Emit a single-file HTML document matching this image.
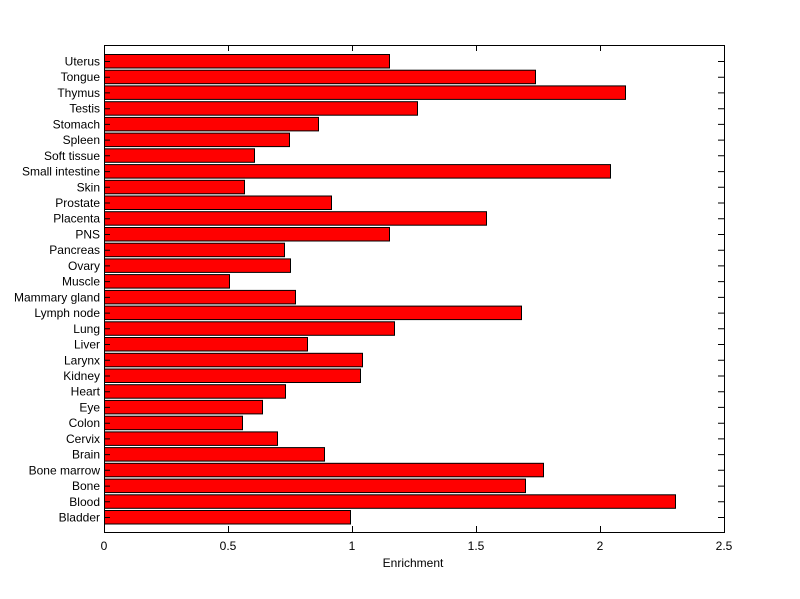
<!DOCTYPE html>
<html><head><meta charset="utf-8"><style>
html,body{margin:0;padding:0;background:#fff;}
svg{display:block;}
text{font-family:"Liberation Sans",sans-serif;font-size:12px;fill:#000;}
</style></head><body>
<svg width="800" height="599" xmlns="http://www.w3.org/2000/svg">
<rect width="800" height="599" fill="#fff"/>
<g fill="#ff0000" stroke="#000" stroke-width="1">
<rect x="104.5" y="54.5" width="285" height="13.5"/>
<rect x="104.5" y="70.2" width="431" height="13.5"/>
<rect x="104.5" y="85.9" width="521" height="13.5"/>
<rect x="104.5" y="101.7" width="313" height="13.5"/>
<rect x="104.5" y="117.4" width="214" height="13.5"/>
<rect x="104.5" y="133.1" width="185" height="13.5"/>
<rect x="104.5" y="148.8" width="150" height="13.5"/>
<rect x="104.5" y="164.6" width="506" height="13.5"/>
<rect x="104.5" y="180.3" width="140" height="13.5"/>
<rect x="104.5" y="196.0" width="227" height="13.5"/>
<rect x="104.5" y="211.7" width="382" height="13.5"/>
<rect x="104.5" y="227.5" width="285" height="13.5"/>
<rect x="104.5" y="243.2" width="180" height="13.5"/>
<rect x="104.5" y="258.9" width="186" height="13.5"/>
<rect x="104.5" y="274.6" width="125" height="13.5"/>
<rect x="104.5" y="290.4" width="191" height="13.5"/>
<rect x="104.5" y="306.1" width="417" height="13.5"/>
<rect x="104.5" y="321.8" width="290" height="13.5"/>
<rect x="104.5" y="337.5" width="203" height="13.5"/>
<rect x="104.5" y="353.3" width="258" height="13.5"/>
<rect x="104.5" y="369.0" width="256" height="13.5"/>
<rect x="104.5" y="384.7" width="181" height="13.5"/>
<rect x="104.5" y="400.4" width="158" height="13.5"/>
<rect x="104.5" y="416.2" width="138" height="13.5"/>
<rect x="104.5" y="431.9" width="173" height="13.5"/>
<rect x="104.5" y="447.6" width="220" height="13.5"/>
<rect x="104.5" y="463.3" width="439" height="13.5"/>
<rect x="104.5" y="479.1" width="421" height="13.5"/>
<rect x="104.5" y="494.8" width="571" height="13.5"/>
<rect x="104.5" y="510.5" width="246" height="13.5"/>
</g>
<rect x="104.5" y="45.5" width="620" height="487" fill="none" stroke="#000" stroke-width="1"/>
<g stroke="#000" stroke-width="1">
<path d="M228.5 532V526M352.5 532V526M476.5 532V526M600.5 532V526M228.5 45V51M352.5 45V51M476.5 45V51M600.5 45V51"/>
<path d="M104 61.5h6M104 77.2h6M104 92.9h6M104 108.7h6M104 124.4h6M104 140.1h6M104 155.8h6M104 171.6h6M104 187.3h6M104 203h6M104 218.7h6M104 234.5h6M104 250.2h6M104 265.9h6M104 281.6h6M104 297.4h6M104 313.1h6M104 328.8h6M104 344.5h6M104 360.3h6M104 376h6M104 391.7h6M104 407.4h6M104 423.2h6M104 438.9h6M104 454.6h6M104 470.3h6M104 486.1h6M104 501.8h6M104 517.5h6"/>
<path d="M724 61.5h-6M724 77.2h-6M724 92.9h-6M724 108.7h-6M724 124.4h-6M724 140.1h-6M724 155.8h-6M724 171.6h-6M724 187.3h-6M724 203h-6M724 218.7h-6M724 234.5h-6M724 250.2h-6M724 265.9h-6M724 281.6h-6M724 297.4h-6M724 313.1h-6M724 328.8h-6M724 344.5h-6M724 360.3h-6M724 376h-6M724 391.7h-6M724 407.4h-6M724 423.2h-6M724 438.9h-6M724 454.6h-6M724 470.3h-6M724 486.1h-6M724 501.8h-6M724 517.5h-6"/>
</g>
<g text-anchor="end">
<text x="100" y="65.5">Uterus</text>
<text x="100" y="81.2">Tongue</text>
<text x="100" y="96.9">Thymus</text>
<text x="100" y="112.7">Testis</text>
<text x="100" y="128.4">Stomach</text>
<text x="100" y="144.1">Spleen</text>
<text x="100" y="159.8">Soft tissue</text>
<text x="100" y="175.6">Small intestine</text>
<text x="100" y="191.3">Skin</text>
<text x="100" y="207">Prostate</text>
<text x="100" y="222.7">Placenta</text>
<text x="100" y="238.5">PNS</text>
<text x="100" y="254.2">Pancreas</text>
<text x="100" y="269.9">Ovary</text>
<text x="100" y="285.6">Muscle</text>
<text x="100" y="301.4">Mammary gland</text>
<text x="100" y="317.1">Lymph node</text>
<text x="100" y="332.8">Lung</text>
<text x="100" y="348.5">Liver</text>
<text x="100" y="364.3">Larynx</text>
<text x="100" y="380">Kidney</text>
<text x="100" y="395.7">Heart</text>
<text x="100" y="411.4">Eye</text>
<text x="100" y="427.2">Colon</text>
<text x="100" y="442.9">Cervix</text>
<text x="100" y="458.6">Brain</text>
<text x="100" y="474.3">Bone marrow</text>
<text x="100" y="490.1">Bone</text>
<text x="100" y="505.8">Blood</text>
<text x="100" y="521.5">Bladder</text>
</g>
<g text-anchor="middle">
<text x="104" y="550">0</text>
<text x="228" y="550">0.5</text>
<text x="352" y="550">1</text>
<text x="476" y="550">1.5</text>
<text x="600" y="550">2</text>
<text x="724" y="550">2.5</text>
<text x="413" y="567">Enrichment</text>
</g>
</svg>
</body></html>
